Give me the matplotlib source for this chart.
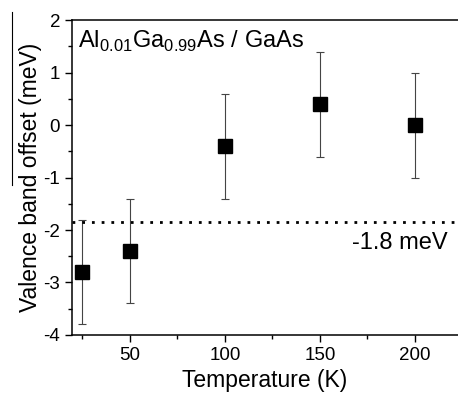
import matplotlib
matplotlib.use("Agg")
import matplotlib.pyplot as plt
from matplotlib.lines import Line2D
from matplotlib.ticker import MultipleLocator

plt.rcParams['font.family'] = ['Liberation Sans', 'DejaVu Sans']
plt.rcParams['mathtext.fontset'] = 'custom'
plt.rcParams['mathtext.rm'] = 'Liberation Sans'
plt.rcParams['axes.unicode_minus'] = False

# data
temps = [25, 50, 100, 150, 200]
offsets = [-2.8, -2.4, -0.4, 0.4, 0.0]
errors = [1.0, 1.0, 1.0, 1.0, 1.0]
ref_level = -1.85
ref_label = "-1.8 meV"

fig = plt.figure(figsize=(4.58, 3.95), dpi=100)
ax = fig.add_axes([0.157, 0.152, 0.843, 0.797])

ax.errorbar(temps, offsets, yerr=errors, fmt='s', color='black',
            markersize=10, ecolor='#444444', elinewidth=0.8,
            capsize=3, capthick=0.8)
ax.axhline(ref_level, color='black', linewidth=2, linestyle=(0, (1, 2.5)))
ax.text(217, -2.25, ref_label, fontsize=17, ha='right', va='center')
ax.text(22.5, 1.6, r'Al$_{0.01}$Ga$_{0.99}$As / GaAs', fontsize=17,
        ha='left', va='center')

ax.set_xlim(19.5, 222.7)
ax.set_ylim(-4, 2)
ax.xaxis.set_major_locator(MultipleLocator(50))
ax.xaxis.set_minor_locator(MultipleLocator(25))
ax.yaxis.set_major_locator(MultipleLocator(1))
ax.yaxis.set_minor_locator(MultipleLocator(0.5))
ax.set_xticks([50, 100, 150, 200])
ax.tick_params(which='major', direction='out', length=5, width=1, labelsize=13.5)
ax.tick_params(which='minor', direction='out', length=3, width=1)
for s in ['left', 'bottom', 'top']:
    ax.spines[s].set_linewidth(1.1)
ax.spines['right'].set_visible(False)

ax.set_xlabel('Temperature (K)', fontsize=16.5, labelpad=4)
ax.set_ylabel('Valence band offset (meV)', fontsize=16.5, labelpad=1)

fig.add_artist(Line2D([0.026, 0.026], [0.970, 0.532], color='black',
                      linewidth=0.8, transform=fig.transFigure))

fig.savefig('out.png', dpi=100)
